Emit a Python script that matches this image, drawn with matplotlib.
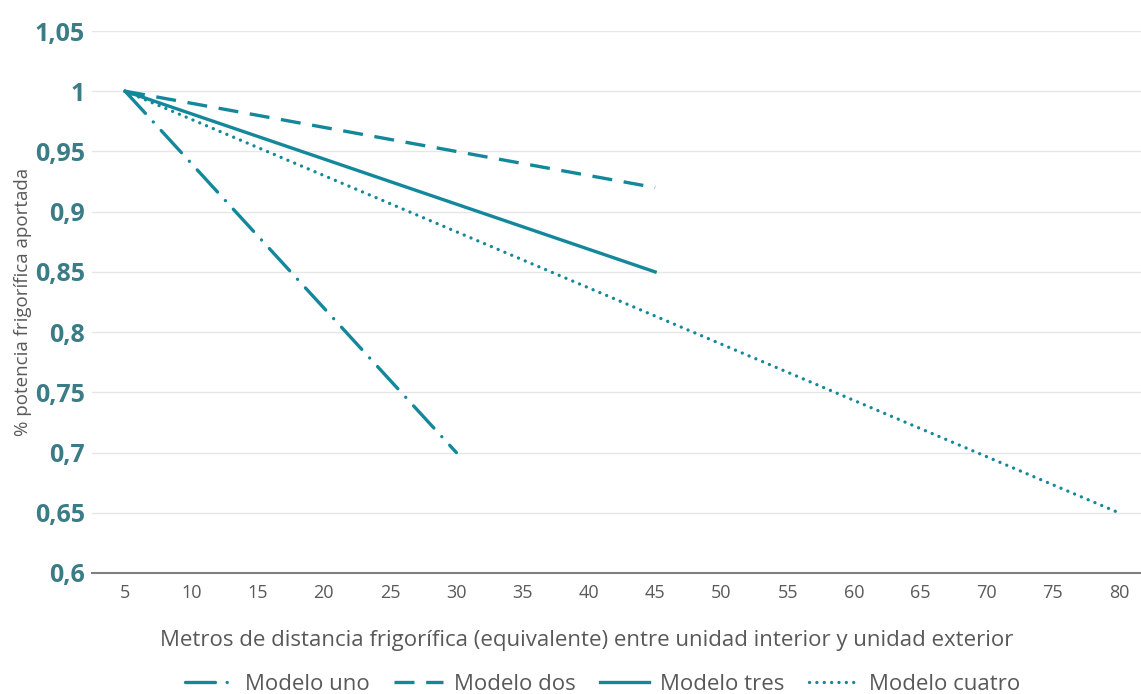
import matplotlib.pyplot as plt
from matplotlib.ticker import FixedLocator

# Data
categories = [5, 10, 15, 20, 25, 30, 35, 40, 45, 50, 55, 60, 65, 70, 75, 80]
series_names = ["Modelo uno", "Modelo dos", "Modelo tres", "Modelo cuatro"]
series_x = [[5, 30], [5, 45], [5, 45], [5, 80]]
series_y = [[1.0, 0.70], [1.0, 0.92], [1.0, 0.85], [1.0, 0.65]]
y_ticks = [0.6, 0.65, 0.7, 0.75, 0.8, 0.85, 0.9, 0.95, 1.0, 1.05]
y_labels = ["0,6", "0,65", "0,7", "0,75", "0,8", "0,85", "0,9", "0,95", "1", "1,05"]

plt.rcParams['font.family'] = ['Open Sans', 'DejaVu Sans']

LINE = "#13889A"
# (linestyle, capstyle)
styles = [((0, (9, 3.5, 0.01, 3.5)), "round"),
          ((0, (6, 3.5)), "butt"),
          ("-", "butt"),
          ((0, (0.01, 2.2)), "round")]

fig = plt.figure(figsize=(11.41, 6.94), dpi=100)
ax = fig.add_axes([92 / 1141, 121 / 694, 1060 / 1141, 542 / 694])

for name, xs, ys, (ls, cap) in zip(series_names, series_x, series_y, styles):
    xi = [categories.index(v) for v in xs]
    line, = ax.plot(xi, ys, color=LINE, linewidth=2.4, linestyle=ls, label=name)
    line.set_dash_capstyle(cap)

ax.set_xlim(-0.5, len(categories) - 0.5)
ax.set_ylim(0.6, 1.05)
ax.set_xticks(range(len(categories)))
ax.set_xticklabels([str(c) for c in categories], fontsize=13, color="#595959")
ax.yaxis.set_major_locator(FixedLocator(y_ticks))
ax.set_yticklabels(y_labels, fontsize=18, fontweight="bold", color="#3B7C86")
ax.tick_params(axis="both", length=0)
ax.tick_params(axis="x", pad=8)
ax.tick_params(axis="y", pad=5)

ax.grid(axis="y", color="#E6E6E6", linewidth=1)
ax.set_axisbelow(True)
for s in ["top", "right", "left"]:
    ax.spines[s].set_visible(False)
ax.spines["bottom"].set_color("#7F7F7F")
ax.spines["bottom"].set_linewidth(1.5)

ax.set_xlabel("Metros de distancia frigorífica (equivalente) entre unidad interior y unidad exterior",
              fontsize=16, color="#595959")
ax.xaxis.set_label_coords(0.467, -0.105)
ax.set_ylabel("% potencia frigorífica aportada", fontsize=13.5, color="#595959", labelpad=2)

fig.legend(loc="lower center", bbox_to_anchor=(0.528, -0.03), ncol=4, frameon=False,
           fontsize=16, handlelength=2.2, columnspacing=1.1, handletextpad=0.5,
           labelcolor="#595959")

fig.savefig("out.png", dpi=100)
